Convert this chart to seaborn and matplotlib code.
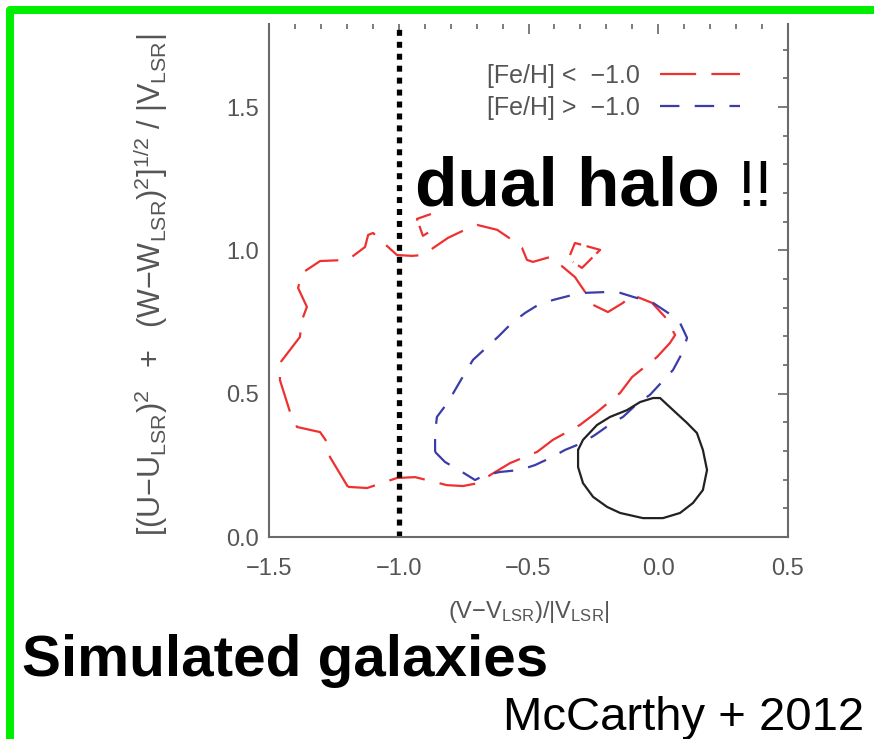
import numpy as np
import pandas as pd
import seaborn as sns
import matplotlib.pyplot as plt
from matplotlib.lines import Line2D
from matplotlib.ticker import MultipleLocator, FuncFormatter

# ---- contour data: (V - V_LSR)/|V_LSR| vs. normalised U/W velocity ----
# metal-poor stars, [Fe/H] < -1.0 (main contour)
poor_v = [-1.196, -1.265, -1.277, -1.303, -1.392, -1.419, -1.458, -1.458, -1.381, -1.373,
          -1.354, -1.388, -1.373, -1.303, -1.196, -1.130, -1.118, -1.099, -1.080, -1.007,
          -0.949, -0.907, -0.810, -0.745, -0.698, -0.621, -0.564, -0.525, -0.506, -0.483,
          -0.417, -0.367, -0.321, -0.282, -0.251, -0.194, -0.136, -0.101, -0.024, 0.026,
          0.065, 0.045, -0.005, -0.101, -0.147, -0.236, -0.302, -0.406, -0.467, -0.571,
          -0.648, -0.695, -0.752, -0.814, -0.937, -1.007, -1.122]
poor_r = [0.175, 0.279, 0.332, 0.366, 0.384, 0.436, 0.548, 0.607, 0.698, 0.757,
          0.803, 0.869, 0.921, 0.963, 0.967, 1.012, 1.054, 1.061, 1.044, 0.984,
          0.981, 0.984, 1.044, 1.072, 1.089, 1.072, 1.037, 1.009, 0.967, 0.960,
          0.977, 0.942, 0.907, 0.855, 0.810, 0.785, 0.817, 0.845, 0.817, 0.768,
          0.705, 0.677, 0.628, 0.558, 0.503, 0.436, 0.391, 0.339, 0.297, 0.258,
          0.216, 0.188, 0.178, 0.181, 0.209, 0.206, 0.171]
# two small metal-poor islands near the top
island1_v = [-0.876, -0.930, -0.907, -0.876]
island1_r = [1.127, 1.110, 1.051, 1.068]
island2_v = [-0.340, -0.321, -0.224, -0.294, -0.329]
island2_r = [0.984, 1.026, 1.002, 0.939, 0.960]

# metal-rich stars, [Fe/H] > -1.0
rich_v = [-0.860, -0.822, -0.756, -0.706, -0.668, -0.610, -0.533, -0.475, -0.409, -0.359,
          -0.294, -0.244, -0.178, -0.136, -0.078, -0.032, 0.014, 0.057, 0.092, 0.111,
          0.084, 0.038, -0.020, -0.097, -0.147, -0.197, -0.282, -0.329, -0.406, -0.463,
          -0.513, -0.564, -0.618, -0.660, -0.714, -0.745, -0.776, -0.810, -0.853, -0.860]
rich_r = [0.297, 0.262, 0.227, 0.199, 0.216, 0.227, 0.234, 0.251, 0.279, 0.304,
          0.328, 0.356, 0.398, 0.419, 0.468, 0.496, 0.541, 0.583, 0.642, 0.695,
          0.747, 0.782, 0.817, 0.838, 0.852, 0.855, 0.852, 0.845, 0.827, 0.810,
          0.782, 0.747, 0.698, 0.663, 0.618, 0.572, 0.524, 0.471, 0.419, 0.363]

# disc population (solid contour)
disc_v = [-0.309, -0.290, -0.236, -0.186, -0.120, -0.070, -0.020, 0.007, 0.057, 0.111,
          0.149, 0.172, 0.188, 0.172, 0.134, 0.084, 0.018, -0.059, -0.147, -0.197,
          -0.251, -0.290, -0.309]
disc_r = [0.304, 0.339, 0.391, 0.419, 0.443, 0.471, 0.485, 0.485, 0.443, 0.398,
          0.363, 0.304, 0.234, 0.164, 0.119, 0.084, 0.066, 0.066, 0.084, 0.105,
          0.140, 0.188, 0.244]

v_split = -1.0
xticks = [-1.5, -1.0, -0.5, 0.0, 0.5]
yticks = [0.0, 0.5, 1.0, 1.5]
poor_label = "[Fe/H] <  \u22121.0"
rich_label = "[Fe/H] >  \u22121.0"

RED = "#ee3030"
BLUE = "#3c3ca8"
GREY = "#555555"

sns.set_theme(style="white")
plt.rcParams["font.family"] = ["Liberation Sans", "DejaVu Sans"]
plt.rcParams["mathtext.fontset"] = "custom"
plt.rcParams["mathtext.rm"] = "Liberation Sans"
plt.rcParams["mathtext.it"] = "Liberation Sans:italic"
plt.rcParams["mathtext.bf"] = "Liberation Sans:bold"
plt.rcParams["lines.scale_dashes"] = False

fig = plt.figure(figsize=(8.74, 7.39), dpi=100)
ax = fig.add_axes([0.3078, 0.2733, 0.5938, 0.6942])


def closed(v, r):
    return pd.DataFrame({"v": list(v) + [v[0]], "r": list(r) + [r[0]]})


red_dash = (0, (26, 11))
blue_dash = (0, (14, 11))

sns.lineplot(data=closed(poor_v, poor_r), x="v", y="r", sort=False, estimator=None,
             color=RED, lw=1.6, linestyle=red_dash, ax=ax, label=poor_label)
sns.lineplot(data=pd.DataFrame({"v": island1_v, "r": island1_r}), x="v", y="r",
             sort=False, estimator=None, color=RED, lw=1.6, linestyle=(0, (12, 4)),
             ax=ax, label="_nolegend_")
sns.lineplot(data=pd.DataFrame({"v": island2_v, "r": island2_r}), x="v", y="r",
             sort=False, estimator=None, color=RED, lw=1.6, linestyle=(0, (14, 4)),
             ax=ax, label="_nolegend_")
sns.lineplot(data=closed(rich_v, rich_r), x="v", y="r", sort=False, estimator=None,
             color=BLUE, lw=1.6, linestyle=blue_dash, ax=ax, label=rich_label)
sns.lineplot(data=closed(disc_v, disc_r), x="v", y="r", sort=False, estimator=None,
             color="#222222", lw=1.6, ax=ax, label="_nolegend_")

ax.axvline(v_split, color="black", lw=3.8, linestyle=(0, (4.3, 4.3)))

ax.set_xlim(-1.5, 0.5)
ax.set_ylim(0, 1.79)
ax.set_xticks(xticks)
ax.set_yticks(yticks)
fmt = FuncFormatter(lambda v, pos: f"{v:.1f}".replace("-", "\u2212"))
ax.xaxis.set_major_formatter(fmt)
ax.yaxis.set_major_formatter(fmt)
ax.xaxis.set_minor_locator(MultipleLocator(0.1))
ax.yaxis.set_minor_locator(MultipleLocator(0.1))
ax.tick_params(which="both", direction="in", top=True, right=True,
               color="#666666", width=1.2, labelcolor=GREY, labelsize=17)
ax.tick_params(which="major", length=7.5)
ax.tick_params(which="minor", length=3.6)
ax.tick_params(axis="x", which="major", pad=15)
ax.tick_params(axis="y", which="major", pad=7)

for side, sp in ax.spines.items():
    sp.set_color("#6a6a6a")
    sp.set_linewidth(1.5)
ax.spines["top"].set_visible(False)

ax.set_xlabel(r"$\mathrm{(V{-}V_{LSR})/|V_{LSR}|}$", fontsize=17, color=GREY)
ax.xaxis.set_label_coords(0.5, -0.146)
ax.xaxis.label.set_va("center")
ax.set_ylabel(r"$\mathrm{[(U{-}U_{LSR})^2\ \ +\ \ (W{-}W_{LSR})^2]^{1/2}\ /\ |V_{LSR}|}$",
              fontsize=22, color=GREY)
ax.yaxis.set_label_coords(-0.229, 0.492)
ax.yaxis.label.set_va("center")

handles = [Line2D([], [], color=RED, lw=1.6, linestyle=red_dash),
           Line2D([], [], color=BLUE, lw=1.6, linestyle=blue_dash)]
leg = ax.legend(handles, [poor_label, rich_label], loc="upper right",
                bbox_to_anchor=(740 / 874, 1 - 64 / 739), bbox_transform=fig.transFigure,
                frameon=False, markerfirst=False, handlelength=3.2, handletextpad=0.8,
                borderpad=0, borderaxespad=0, labelspacing=0.3, fontsize=18)
for t in leg.get_texts():
    t.set_color(GREY)

fig.text(415 / 874, 1 - 206 / 739, "dual halo", fontsize=50, fontweight="bold",
         color="black", va="baseline", ha="left")
fig.text(737 / 874, 1 - 206 / 739, "!!", fontsize=46, color="black",
         va="baseline", ha="left")
fig.text(22 / 874, 1 - 676 / 739, "Simulated galaxies", fontsize=42,
         fontweight="bold", color="black", va="baseline", ha="left")
fig.text(503 / 874, 1 - 730 / 739, "McCarthy + 2012", fontsize=34, color="black",
         va="baseline", ha="left")

# green slide border along the top and left edges
fig.add_artist(Line2D([10 / 874, 10 / 874, 1.0], [0.0, 1 - 10 / 739, 1 - 10 / 739],
                      transform=fig.transFigure, color="#00ee00", lw=5.8,
                      solid_joinstyle="round", solid_capstyle="butt"))

fig.savefig("out.png", dpi=100)
